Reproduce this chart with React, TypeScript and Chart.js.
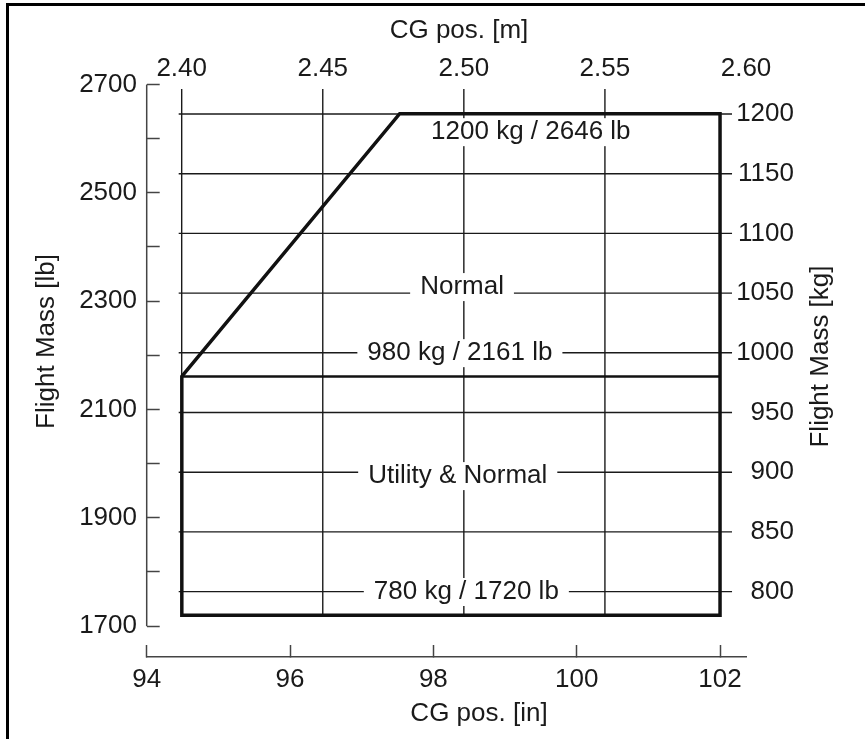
import React, { useEffect, useRef } from 'react';
import { Chart, registerables } from 'chart.js';

Chart.register(...registerables);

const FONT = '"Liberation Sans", Arial, sans-serif';
const LB_PER_KG = 2.20462;
const IN_PER_M = 39.3701;

// Axis ticks
const inchTicks = [94, 96, 98, 100, 102];
const meterTicks = [2.4, 2.45, 2.5, 2.55, 2.6];
const meterGridTicks = [2.4, 2.45, 2.5, 2.55];
const lbTicks = [1700, 1800, 1900, 2000, 2100, 2200, 2300, 2400, 2500, 2600, 2700];
const lbLabelled = [1700, 1900, 2100, 2300, 2500, 2700];
const kgTicks = [800, 850, 900, 950, 1000, 1050, 1100, 1150, 1200];

// Axis ranges
const xMinIn = 94;
const xMaxIn = 2.6 * IN_PER_M;
const yMinLb = 1643;
const yMaxLb = 2700;

// CG envelope (inches / lb)
const envelopeIn = [94.49, 94.49, 97.53, 102, 102, 94.49];
const envelopeLb = [1720, 2161, 2646, 2646, 1720, 1720];
// Utility category limit
const utilityIn = [94.49, 102];
const utilityLb = [2161, 2161];

// Zone labels (anchored in inches / lb)
const zoneLabels = ['1200 kg / 2646 lb', 'Normal', '980 kg / 2161 lb', 'Utility & Normal', '780 kg / 1720 lb'];
const zoneLabelIn = [99.36, 98.4, 98.37, 98.34, 98.46];
const zoneLabelLb = [2612, 2326, 2204, 1977, 1763];

const decorPlugin = {
  id: 'decor',
  beforeDatasetsDraw(chart: any) {
    const { ctx, chartArea, scales } = chart;
    const x = scales.x;
    const xm = scales.xm;
    const y = scales.y;
    const ykg = scales.ykg;
    ctx.save();
    // left lb axis line
    ctx.strokeStyle = '#444';
    ctx.lineWidth = 1.5;
    const lx = x.getPixelForValue(xMinIn);
    ctx.beginPath();
    ctx.moveTo(lx, y.getPixelForValue(lbTicks[0]));
    ctx.lineTo(lx, y.getPixelForValue(lbTicks[lbTicks.length - 1]));
    ctx.stroke();

    // vertical metre grid lines
    ctx.strokeStyle = '#1a1a1a';
    ctx.lineWidth = 1.4;
    const gTop = chartArea.top + 4.5;
    const gBottom = y.getPixelForValue(Math.min(...envelopeLb));
    meterGridTicks.forEach((m) => {
      const px = xm.getPixelForValue(m);
      ctx.beginPath();
      ctx.moveTo(px, gTop);
      ctx.lineTo(px, gBottom);
      ctx.stroke();
    });
    // horizontal kg grid lines
    const hLeft = xm.getPixelForValue(meterGridTicks[0]) - 3;
    const hRight = x.getPixelForValue(Math.max(...envelopeIn)) + 12;
    kgTicks.forEach((k) => {
      const py = ykg.getPixelForValue(k);
      ctx.beginPath();
      ctx.moveTo(hLeft, py);
      ctx.lineTo(hRight, py);
      ctx.stroke();
    });

    // zone labels with white boxes
    ctx.font = `26px ${FONT}`;
    ctx.textAlign = 'center';
    ctx.textBaseline = 'middle';
    zoneLabels.forEach((t, i) => {
      const cx = x.getPixelForValue(zoneLabelIn[i]);
      const cy = y.getPixelForValue(zoneLabelLb[i]);
      const w = ctx.measureText(t).width + 20;
      ctx.fillStyle = '#fff';
      ctx.fillRect(cx - w / 2, cy - 14, w, 28);
      ctx.fillStyle = '#1a1a1a';
      ctx.fillText(t, cx, cy);
    });
    ctx.restore();
  },
  afterDraw(chart: any) {
    const { ctx } = chart;
    ctx.save();
    ctx.font = `26px ${FONT}`;
    ctx.fillStyle = '#1a1a1a';
    ctx.textAlign = 'center';
    ctx.textBaseline = 'middle';
    ctx.fillText('CG pos. [m]', 459, 31);
    ctx.fillText('CG pos. [in]', 479, 713.5);
    ctx.save();
    ctx.translate(47, 341.5);
    ctx.rotate(-Math.PI / 2);
    ctx.fillText('Flight Mass [lb]', 0, 0);
    ctx.restore();
    ctx.save();
    ctx.translate(821, 356.5);
    ctx.rotate(-Math.PI / 2);
    ctx.fillText('Flight Mass [kg]', 0, 0);
    ctx.restore();
    ctx.restore();
  },
};

export default function App() {
  const canvasRef = useRef<HTMLCanvasElement | null>(null);

  useEffect(() => {
    if (!canvasRef.current) return;
    const tickFont = { family: FONT, size: 26 };
    const chart = new Chart(canvasRef.current, {
      type: 'scatter',
      data: {
        datasets: [
          {
            label: 'Envelope',
            data: envelopeIn.map((v, i) => ({ x: v, y: envelopeLb[i] })),
            showLine: true,
            borderColor: '#111',
            borderWidth: 3.5,
            borderJoinStyle: 'miter',
            borderCapStyle: 'square',
            pointRadius: 0,
            xAxisID: 'x',
            yAxisID: 'y',
          },
          {
            label: 'Utility limit',
            data: utilityIn.map((v, i) => ({ x: v, y: utilityLb[i] })),
            showLine: true,
            borderColor: '#111',
            borderWidth: 2.5,
            pointRadius: 0,
            xAxisID: 'x',
            yAxisID: 'y',
          },
        ],
      } as any,
      options: {
        animation: false,
        responsive: true,
        maintainAspectRatio: false,
        events: [],
        layout: { padding: { left: 0, top: 0, bottom: 0, right: 71 } },
        plugins: { legend: { display: false }, tooltip: { enabled: false } },
        scales: {
          x: {
            type: 'linear',
            position: 'bottom',
            min: xMinIn,
            max: xMaxIn,
            afterBuildTicks: (s: any) => {
              s.ticks = inchTicks.map((v) => ({ value: v }));
            },
            afterFit: (s: any) => {
              s.height = 82;
            },
            grid: { display: true, drawOnChartArea: false, drawTicks: true, tickLength: -12, tickWidth: 1.5, tickColor: '#444' },
            border: { display: true, color: '#444', width: 1.5 },
            ticks: { padding: 19, font: tickFont, color: '#1a1a1a', autoSkip: false, maxRotation: 0, callback: (v: any) => String(v) },
          },
          xm: {
            type: 'linear',
            position: 'top',
            min: xMinIn / IN_PER_M,
            max: 2.6,
            afterBuildTicks: (s: any) => {
              s.ticks = meterTicks.map((v) => ({ value: v }));
            },
            afterFit: (s: any) => {
              s.height = 84.5;
            },
            grid: { display: false },
            border: { display: false },
            ticks: { padding: -8, font: tickFont, color: '#1a1a1a', autoSkip: false, maxRotation: 0, callback: (v: any) => Number(v).toFixed(2) },
          },
          y: {
            type: 'linear',
            position: 'left',
            min: yMinLb,
            max: yMaxLb,
            afterBuildTicks: (s: any) => {
              s.ticks = lbTicks.map((v) => ({ value: v }));
            },
            afterFit: (s: any) => {
              s.width = 146.7;
            },
            grid: { display: true, drawOnChartArea: false, drawTicks: true, tickLength: -13, tickWidth: 1.5, tickColor: '#444' },
            border: { display: false },
            ticks: { padding: 22.7, font: tickFont, color: '#1a1a1a', autoSkip: false, callback: (v: any) => (lbLabelled.includes(Number(v)) ? String(v) : '') },
          },
          ykg: {
            type: 'linear',
            position: 'right',
            min: yMinLb / LB_PER_KG,
            max: yMaxLb / LB_PER_KG,
            afterBuildTicks: (s: any) => {
              s.ticks = kgTicks.map((v) => ({ value: v }));
            },
            afterFit: (s: any) => {
              s.width = 48;
            },
            grid: { display: false },
            border: { display: false },
            ticks: { mirror: true, padding: 48, crossAlign: 'near', font: tickFont, color: '#1a1a1a', autoSkip: false, callback: (v: any) => String(v) },
          },
        },
      } as any,
      plugins: [decorPlugin],
    });
    return () => chart.destroy();
  }, []);

  return (
    <div style={{ position: 'absolute', left: 0, top: 0, width: 865, height: 739, background: '#fff', overflow: 'hidden' }}>
      <canvas ref={canvasRef} />
      <div
        style={{
          position: 'absolute',
          left: 6,
          top: 3,
          width: 900,
          height: 800,
          borderLeft: '3px solid #000',
          borderTop: '3px solid #000',
          pointerEvents: 'none',
        }}
      />
    </div>
  );
}
